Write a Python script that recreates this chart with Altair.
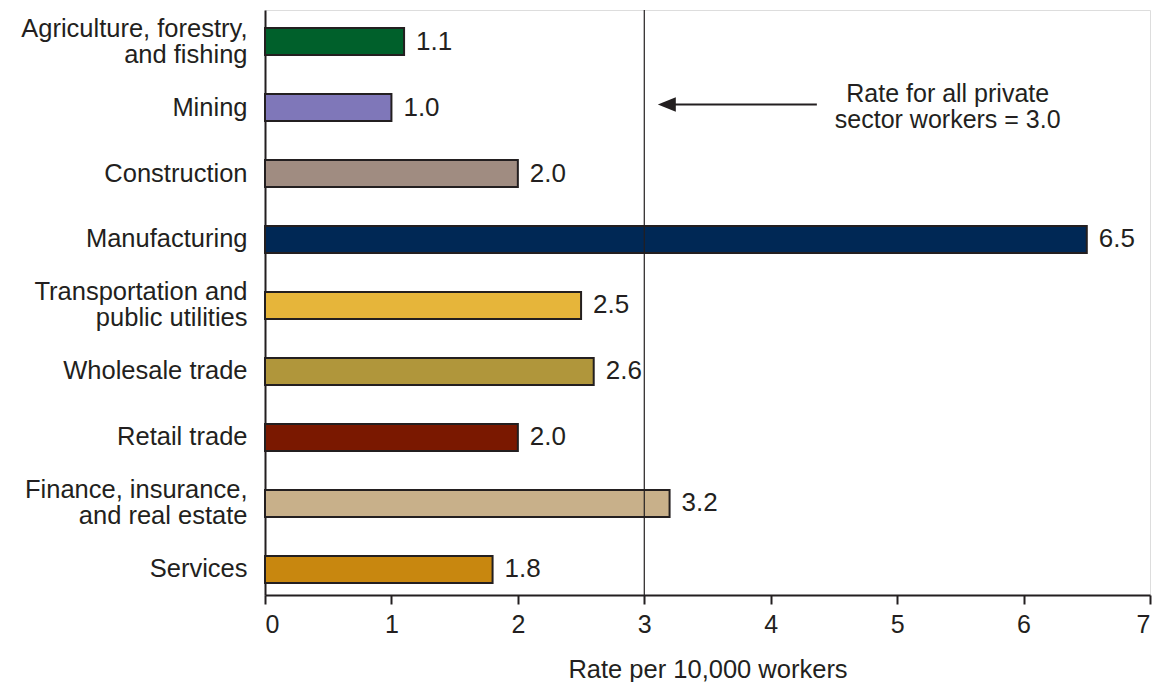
import altair as alt
import pandas as pd

categories = [
    "Agriculture, forestry,\nand fishing",
    "Mining",
    "Construction",
    "Manufacturing",
    "Transportation and\npublic utilities",
    "Wholesale trade",
    "Retail trade",
    "Finance, insurance,\nand real estate",
    "Services",
]
rates = [1.1, 1.0, 2.0, 6.5, 2.5, 2.6, 2.0, 3.2, 1.8]
colors = ["#00602b", "#7f77b9", "#a08c81", "#002855", "#e6b53a",
          "#b0963b", "#7a1800", "#c8b08a", "#c8870f"]
x_ticks = [0, 1, 2, 3, 4, 5, 6, 7]

all_private_rate = 3.0
arrow_start = 4.365
arrow_tip = 3.107
note_x = 5.4
note_lines = ["Rate for all private", "sector workers = 3.0"]

FONT = "Liberation Sans"
INK = "#231f20"
W = 885
PX_PER_UNIT = W / 7
LH = 26

df = pd.DataFrame({"cat": categories, "rate": rates, "color": colors})

yscale = alt.Scale(domain=categories, paddingInner=0.59, paddingOuter=0.227, align=0.6)
xscale = alt.Scale(domain=[0, 7], nice=False)

base = alt.Chart(df)

bars = base.mark_bar(stroke=INK, strokeWidth=2).encode(
    x=alt.X("rate:Q", scale=xscale,
            axis=alt.Axis(values=x_ticks, format="d", title="Rate per 10,000 workers", grid=False,
                          domainColor=INK, domainWidth=2, tickColor=INK, tickWidth=2,
                          tickSize=9, labelFontSize=25, labelFont=FONT, labelColor=INK,
                          labelPadding=8, titleFont=FONT, titleFontSize=25.5,
                          titleFontWeight="normal", titleColor=INK, titlePadding=20)),
    y=alt.Y("cat:N", scale=yscale, sort=categories,
            axis=alt.Axis(title=None, ticks=False, domainColor=INK, domainWidth=2,
                          labelFontSize=25.5, labelFont=FONT, labelColor=INK,
                          labelPadding=18, labelLineHeight=LH, labelLimit=400,
                          labelOffset={"condition": {"test": "indexof(datum.value, '\\n') >= 0",
                                                     "value": -LH / 2},
                                       "value": 0},
                          labelExpr="split(datum.label, '\\n')")),
    color=alt.Color("color:N", scale=None, legend=None),
)

values = base.mark_text(align="left", baseline="middle", dx=12, fontSize=26,
                        font=FONT, color=INK).encode(
    x=alt.X("rate:Q", scale=xscale),
    y=alt.Y("cat:N", scale=yscale, sort=categories),
    text=alt.Text("rate:Q", format=".1f"),
)

ref_df = pd.DataFrame({"x": [all_private_rate]})
ref_rule = alt.Chart(ref_df).mark_rule(color=INK, strokeWidth=1.2).encode(
    x=alt.X("x:Q", scale=xscale)
)

arrow_df = pd.DataFrame({"x": [arrow_tip + 0.05], "x2": [arrow_start], "cat": ["Mining"]})
arrow_line = alt.Chart(arrow_df).mark_rule(color=INK, strokeWidth=2, yOffset=-3).encode(
    x=alt.X("x:Q", scale=xscale), x2="x2:Q",
    y=alt.Y("cat:N", scale=yscale, sort=categories),
)

head_df = pd.DataFrame({"x": [arrow_tip + 9 / PX_PER_UNIT], "cat": ["Mining"]})
arrow_head = alt.Chart(head_df).mark_point(
    shape="M-1,0L1,-0.8L1,0.8Z", filled=True, size=324, color=INK, opacity=1,
    strokeWidth=0, yOffset=-3,
).encode(
    x=alt.X("x:Q", scale=xscale),
    y=alt.Y("cat:N", scale=yscale, sort=categories),
)

note_df = pd.DataFrame({"x": [note_x], "cat": ["Mining"], "t": [note_lines]})
note = alt.Chart(note_df).mark_text(
    align="center", baseline="middle", fontSize=25, font=FONT, color=INK,
    lineHeight=26, yOffset=-14,
).encode(
    x=alt.X("x:Q", scale=xscale),
    y=alt.Y("cat:N", scale=yscale, sort=categories),
    text="t",
)

chart = alt.layer(bars, ref_rule, values, arrow_line, arrow_head, note).properties(
    width=W, height=585,
    autosize=alt.AutoSizeParams(type="none"),
    padding={"left": 257, "top": 2, "right": 6, "bottom": 87},
).configure_view(stroke=None).configure(background="white")

chart.save("out.html", embed_options={"renderer": "svg", "actions": False})
